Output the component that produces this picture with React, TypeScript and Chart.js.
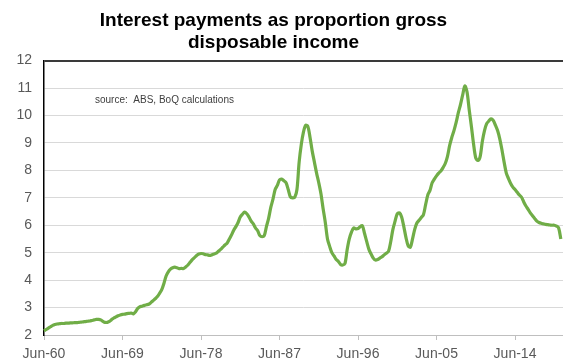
import { useEffect, useRef } from 'react';
import { Chart, registerables } from 'chart.js';

Chart.register(...registerables);

const TITLE_LINES = ['Interest payments as proportion gross', 'disposable income'];
const SOURCE_NOTE = 'source:  ABS, BoQ calculations';
const TICK_LABELS = ['Jun-60', 'Jun-69', 'Jun-78', 'Jun-87', 'Jun-96', 'Jun-05', 'Jun-14'];
const QUARTER_MONTHS = ['Jun', 'Sep', 'Dec', 'Mar'];
const FIRST_YEAR = 1960;
const LAST_CATEGORY = 'Dec-19';

// Quarterly values, each row: Jun, Sep, Dec of the year, Mar of the next year
const values1960s = [
  2.15, 2.2, 2.25, 2.3,
  2.35, 2.38, 2.4, 2.41,
  2.42, 2.42, 2.43, 2.43,
  2.44, 2.44, 2.45, 2.45,
  2.46, 2.47, 2.48, 2.49,
  2.5, 2.51, 2.53, 2.55,
  2.57, 2.57, 2.55, 2.5,
  2.46, 2.46, 2.5, 2.56,
  2.62, 2.66, 2.7, 2.73,
  2.75, 2.76, 2.78, 2.79,
];
const values1970s = [
  2.8, 2.77, 2.85, 2.97,
  3.03, 3.05, 3.08, 3.1,
  3.12, 3.18, 3.25, 3.32,
  3.4, 3.52, 3.65, 3.88,
  4.15, 4.3, 4.4, 4.45,
  4.47, 4.45, 4.42, 4.43,
  4.42, 4.48, 4.55, 4.65,
  4.75, 4.82, 4.9, 4.95,
  4.97, 4.96, 4.93, 4.92,
  4.9, 4.92, 4.95, 4.98,
];
const values1980s = [
  5.05, 5.12, 5.2, 5.28,
  5.35, 5.5, 5.65, 5.82,
  5.95, 6.1, 6.3, 6.4,
  6.48, 6.42, 6.3, 6.15,
  6.05, 5.9, 5.8, 5.62,
  5.58, 5.62, 5.95, 6.25,
  6.65, 6.95, 7.3, 7.45,
  7.65, 7.68, 7.62, 7.55,
  7.3, 7.03, 7.0, 7.02,
  7.3, 8.3, 8.95, 9.4,
];
const values1990s = [
  9.64, 9.6, 9.2, 8.7,
  8.3, 7.9, 7.55, 7.15,
  6.6, 6.1, 5.5, 5.23,
  5.0, 4.88, 4.75, 4.68,
  4.57, 4.55, 4.6, 5.1,
  5.5, 5.75, 5.9, 5.87,
  5.88, 5.95, 5.98, 5.7,
  5.4, 5.12, 4.95, 4.8,
  4.73, 4.75, 4.8, 4.85,
  4.92, 4.98, 5.05, 5.4,
];
const values2000s = [
  5.85, 6.15, 6.42, 6.45,
  6.3, 5.95, 5.55, 5.25,
  5.2, 5.5, 5.85, 6.08,
  6.18, 6.28, 6.38, 6.75,
  7.1, 7.27, 7.55, 7.68,
  7.8, 7.9, 7.98, 8.1,
  8.25, 8.5, 8.9, 9.2,
  9.45, 9.75, 10.1, 10.4,
  10.75, 11.08, 10.85, 10.2,
  9.6, 8.95, 8.45, 8.36,
];
const values2010s = [
  8.5, 9.05, 9.45, 9.7,
  9.8, 9.88, 9.82, 9.65,
  9.45, 9.15, 8.75, 8.3,
  7.9, 7.7, 7.52, 7.39,
  7.3, 7.2, 7.1, 7.02,
  6.85, 6.7, 6.58, 6.45,
  6.35, 6.25, 6.15, 6.1,
  6.07, 6.05, 6.03, 6.02,
  6.01, 6.0, 6.0, 5.97,
  5.9, 5.5,
];

const SERIES = [
  ...values1960s,
  ...values1970s,
  ...values1980s,
  ...values1990s,
  ...values2000s,
  ...values2010s,
];

function buildCategories(): string[] {
  const out: string[] = [];
  for (let i = 0; i < 400; i++) {
    const m = QUARTER_MONTHS[i % 4];
    const y = FIRST_YEAR + Math.floor(i / 4) + (m === 'Mar' ? 1 : 0);
    const label = `${m}-${String(y % 100).padStart(2, '0')}`;
    out.push(label);
    if (label === LAST_CATEGORY) break;
  }
  return out;
}

const CATEGORIES = buildCategories();
const FONT = '"Liberation Sans", Arial, Helvetica, sans-serif';

const sourceNotePlugin = {
  id: 'sourceNote',
  beforeDatasetsDraw(chart: any) {
    const { ctx, chartArea } = chart;
    ctx.save();
    ctx.font = `10px ${FONT}`;
    ctx.fillStyle = '#404040';
    ctx.textBaseline = 'middle';
    ctx.textAlign = 'left';
    ctx.fillText(SOURCE_NOTE, chartArea.left + 51, chartArea.top + 39.5);
    ctx.restore();
  },
};

export default function App() {
  const canvasRef = useRef<HTMLCanvasElement | null>(null);

  useEffect(() => {
    if (!canvasRef.current) return;
    const chart = new Chart(canvasRef.current, {
      type: 'line',
      data: {
        labels: CATEGORIES,
        datasets: [
          {
            data: SERIES,
            borderColor: '#70ad47',
            borderWidth: 3.2,
            pointRadius: 0,
            pointHoverRadius: 0,
            tension: 0.3,
            fill: false,
          },
        ],
      },
      options: {
        responsive: false,
        animation: false,
        layout: { padding: 0 },
        plugins: {
          legend: { display: false },
          tooltip: { enabled: false },
          title: {
            display: true,
            text: TITLE_LINES,
            color: '#000000',
            font: { family: FONT, size: 19, weight: 'bold', lineHeight: 1.2 },
            padding: { top: 1, bottom: 6 },
          },
        },
        scales: {
          x: {
            type: 'category',
            offset: false,
            afterBuildTicks: (scale: any) => {
              scale.ticks = scale.ticks.filter((t: any) =>
                TICK_LABELS.includes(CATEGORIES[t.value])
              );
            },
            afterFit: (scale: any) => {
              scale.height = 27;
            },
            ticks: {
              autoSkip: false,
              maxRotation: 0,
              minRotation: 0,
              padding: 6,
              color: '#595959',
              font: { family: FONT, size: 14 },
            },
            grid: {
              display: true,
              drawOnChartArea: false,
              drawTicks: true,
              tickLength: 5,
              color: '#bfbfbf',
            },
            border: { display: true, color: '#bfbfbf', width: 1 },
          },
          y: {
            min: 2,
            max: 12,
            afterFit: (scale: any) => {
              scale.width = 60;
            },
            ticks: {
              stepSize: 1,
              padding: 12,
              color: '#595959',
              font: { family: FONT, size: 14 },
            },
            grid: {
              drawTicks: false,
              color: (ctx: any) => (ctx.tick && ctx.tick.value === 12 ? '#3a3a3a' : '#d9d9d9'),
              lineWidth: (ctx: any) => (ctx.tick && ctx.tick.value === 12 ? 2 : 1),
            },
            border: { display: true, color: '#000000', width: 1.5 },
          },
        },
      },
      plugins: [sourceNotePlugin],
    });
    return () => chart.destroy();
  }, []);

  return (
    <div
      style={{
        position: 'fixed',
        left: -16,
        top: 8,
        width: 579,
        height: 350,
        overflow: 'hidden',
      }}
    >
      <canvas ref={canvasRef} width={579} height={354} style={{ display: 'block' }} />
    </div>
  );
}
